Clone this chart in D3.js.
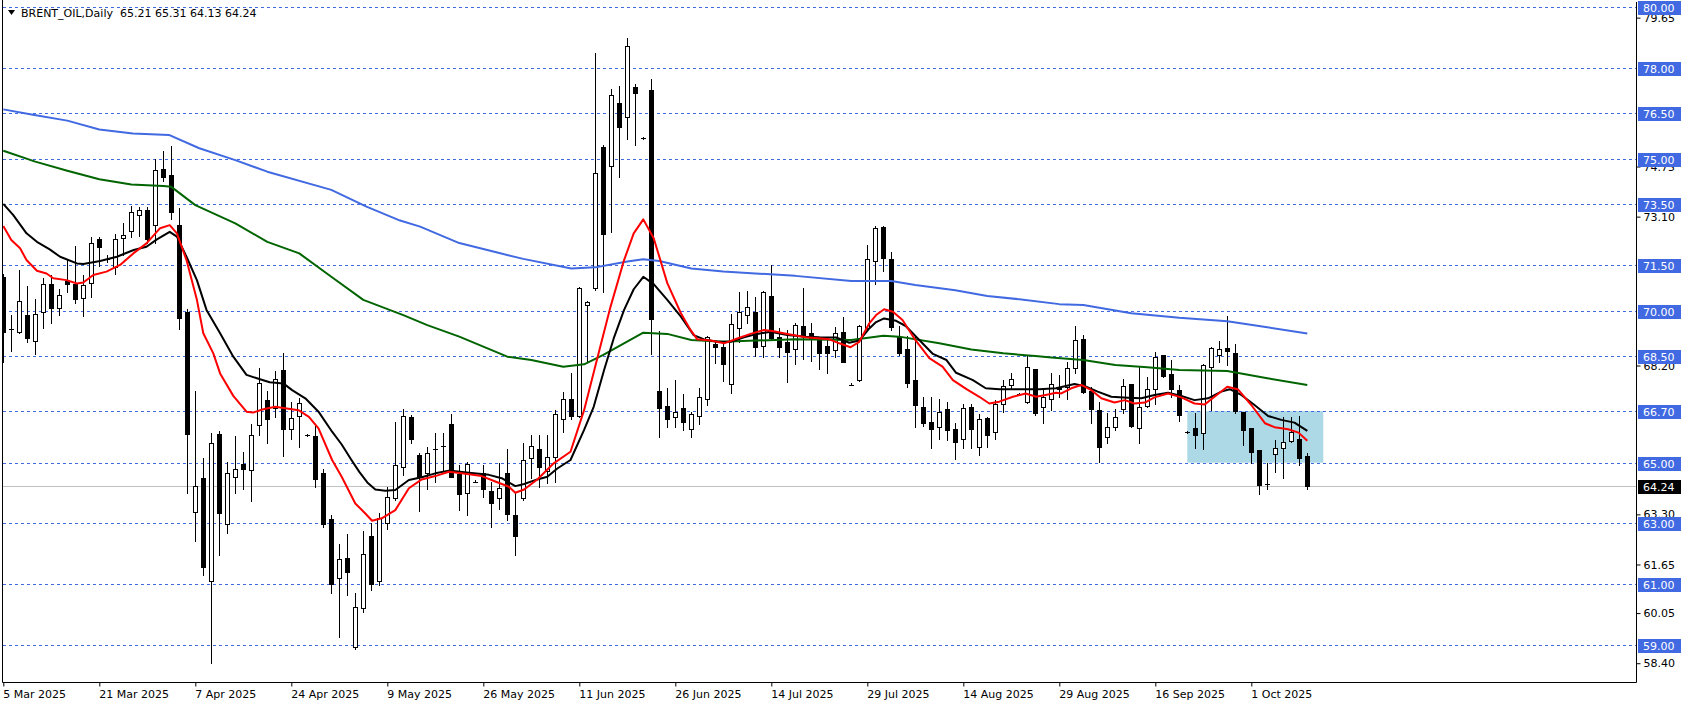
<!DOCTYPE html>
<html><head><meta charset="utf-8">
<script src="https://cdn.jsdelivr.net/npm/d3@7"></script>
<style>
html,body{margin:0;padding:0;background:#fff;}
svg{display:block;}
text{font-family:"DejaVu Sans",sans-serif;font-size:11px;}
</style></head><body>
<svg id="chart" width="1686" height="706"></svg>
<script>
const symbol = "BRENT_OIL,Daily";
const opens = [71.12,69.36,69.29,69.86,68.99,69.95,70.88,70.08,70.98,70.88,
70.41,70.90,72.35,71.70,71.45,72.39,72.63,73.14,73.31,72.84,
74.66,74.46,72.81,69.96,63.39,64.50,61.12,65.93,62.97,64.52,
64.97,64.75,66.23,67.06,66.79,68.05,66.10,66.54,65.90,65.88,
64.65,63.14,61.19,61.86,58.94,60.21,62.59,61.11,63.00,63.83,
64.85,66.52,65.25,64.65,65.42,65.56,66.27,64.62,63.99,64.37,
64.65,64.07,63.83,64.65,63.27,63.83,65.14,65.44,64.73,65.20,
66.43,67.09,66.55,70.18,70.76,75.40,74.77,76.85,76.37,77.36,
75.68,77.27,67.36,66.87,66.49,66.79,66.11,66.54,67.09,68.91,
68.82,67.59,69.42,69.86,69.97,68.84,70.50,69.13,68.98,68.73,
69.49,69.28,69.04,68.84,68.71,69.31,67.57,67.72,69.42,71.63,
72.75,71.69,69.13,68.73,67.72,66.82,66.34,66.16,66.76,66.10,
65.77,66.82,65.53,66.46,66.01,66.93,67.56,67.27,67.01,68.07,
66.82,67.09,67.50,67.48,68.11,69.07,67.37,66.73,65.86,66.19,
66.76,67.58,66.13,66.88,67.44,68.53,67.91,67.39,66.01,66.15,
65.99,68.16,68.55,68.76,68.60,66.68,66.13,65.42,64.30,65.28,
65.47,65.73,65.78,65.21];
const highs = [71.20,69.86,71.34,70.82,70.39,71.07,71.18,70.72,71.70,72.12,
71.18,72.42,72.42,71.85,72.53,72.90,73.45,73.41,73.41,74.99,
75.26,75.42,73.37,70.05,67.36,65.14,65.97,66.04,65.01,65.88,
65.35,66.26,68.11,67.35,68.03,68.62,67.00,67.12,65.95,66.21,
64.79,63.28,62.32,62.67,60.70,62.75,63.03,63.33,64.21,66.34,
66.76,66.57,65.31,65.53,65.97,65.97,66.59,64.92,65.03,64.42,
64.92,64.38,64.98,65.44,63.99,65.64,65.91,65.91,65.90,66.73,
67.34,67.94,70.80,70.32,78.50,75.46,77.29,77.40,78.98,77.47,
75.72,77.62,69.33,67.45,67.72,67.25,66.68,67.45,69.17,68.98,
68.98,69.89,70.61,70.65,70.47,70.65,71.51,69.42,69.37,69.61,
70.74,69.59,69.15,69.15,69.48,69.81,67.63,69.53,72.17,72.79,
72.78,71.95,69.50,69.17,69.20,67.17,67.17,67.09,67.01,66.32,
66.93,66.93,66.60,66.52,67.06,67.72,67.94,67.31,68.51,68.07,
67.45,67.94,67.89,68.33,69.50,69.20,67.50,66.99,66.63,66.76,
67.76,67.58,68.14,67.81,68.64,68.53,68.38,67.56,66.03,66.63,
68.25,68.80,69.00,69.83,68.91,66.68,66.13,65.42,64.98,65.75,
66.51,66.51,66.54,65.31];
const lows = [68.30,68.69,69.26,68.98,68.59,69.42,69.61,69.86,70.63,70.25,
69.84,70.47,71.47,71.62,71.21,71.84,72.42,72.46,72.24,72.22,
74.28,73.01,69.40,63.99,62.43,61.30,58.40,61.96,62.70,63.99,
64.14,63.75,65.90,65.64,66.49,65.23,65.77,65.51,65.88,64.19,
62.87,60.70,59.25,60.64,58.87,60.10,60.81,60.97,62.81,63.77,
64.60,65.64,63.41,64.12,64.38,64.76,64.52,63.44,63.27,64.35,
63.86,62.89,63.47,63.11,61.96,63.77,64.49,64.21,64.32,64.38,
66.02,66.43,66.52,68.33,70.68,70.63,72.60,74.42,75.64,75.46,
75.66,68.58,65.86,66.16,66.16,66.08,65.86,66.29,66.90,68.27,
67.70,67.28,68.98,69.59,68.51,68.49,69.06,68.49,67.67,68.24,
68.40,68.36,68.07,67.94,68.47,68.30,67.55,67.70,69.39,70.88,
71.32,69.37,68.55,67.48,66.19,66.21,65.47,65.77,65.75,65.11,
65.47,65.47,65.25,65.53,65.77,66.68,67.41,67.24,66.98,66.57,
66.32,66.73,67.15,67.09,67.96,67.30,66.30,65.03,65.66,66.08,
66.63,66.16,65.66,66.82,66.93,67.81,67.15,66.38,65.99,65.47,
65.44,66.73,68.30,68.22,66.62,65.58,64.99,63.97,64.14,64.70,
64.49,65.69,64.92,64.13];
const closes = [69.29,69.40,70.31,69.09,69.89,70.87,70.10,70.51,70.89,70.38,
70.84,72.22,72.11,71.72,72.35,72.48,73.24,73.31,72.37,74.62,
74.41,73.26,69.77,65.93,64.22,61.58,65.64,63.35,64.65,64.78,
64.80,65.90,67.61,66.43,67.77,66.10,66.47,66.95,65.89,64.47,
62.97,61.01,61.82,61.39,60.24,61.98,61.01,63.17,63.86,64.91,
66.54,65.77,64.54,65.33,65.46,65.51,64.54,63.96,64.95,64.36,
64.12,63.66,64.16,63.30,62.60,65.08,65.55,64.85,65.18,66.59,
67.09,66.55,70.74,70.30,74.52,72.52,77.10,76.04,78.72,77.18,
75.67,69.74,66.79,66.43,66.66,66.35,66.59,67.15,69.13,68.80,
68.25,69.55,69.97,70.11,68.80,70.61,69.09,68.80,68.65,69.52,
69.17,69.06,68.62,68.60,69.28,68.33,67.56,69.51,71.72,72.71,
71.73,69.48,68.60,67.63,66.89,66.30,66.10,66.66,66.08,65.69,
66.79,66.10,66.43,65.90,66.93,67.54,67.74,67.26,68.14,66.62,
67.17,67.58,67.42,68.11,69.04,67.34,66.78,65.53,66.19,66.49,
67.52,66.21,66.82,67.42,68.47,67.85,67.44,66.57,66.00,65.91,
68.20,68.76,68.75,68.69,66.71,66.08,65.36,64.27,64.26,65.47,
65.68,66.02,65.17,64.24];

const maFast = [[0,72.79],[1,72.33],[2.1,72.06],[2.9,71.67],[4.2,71.32],[5.4,71.23],[6.25,71.07],[7.9,71.01],[9.2,70.90],[10,70.93],[11.25,71.18],[12.9,71.29],[14.6,71.51],[16.25,71.89],[17.9,72.22],[19.6,72.72],[20.8,72.82],[21.7,72.55],[22.9,71.67],[24.2,70.36],[25,69.26],[26.25,68.60],[27.1,67.94],[28.75,67.20],[30.4,66.68],[31.2,66.65],[32.5,66.76],[34,66.84],[36.9,66.73],[38.2,66.51],[39.4,66.13],[41.1,65.09],[42.3,64.54],[44,63.66],[45.25,63.33],[46.1,63.09],[47.3,63.17],[49,63.44],[50.7,64.16],[52.3,64.45],[54,64.56],[55.7,64.70],[57.3,64.65],[59.8,64.56],[61.5,64.38],[63.2,64.21],[64,64.01],[65.1,64.12],[66.75,64.45],[68.8,64.98],[70.9,65.36],[72.6,66.73],[74.3,68.49],[75.9,70.13],[77.6,71.67],[78.8,72.55],[80,73.01],[81.3,72.39],[83,70.91],[84.7,69.92],[85.9,69.37],[86.75,69.06],[88.4,69.02],[90.1,68.93],[91.75,69.09],[93.4,69.24],[95.1,69.37],[96.3,69.33],[98,69.24],[100.3,69.13],[103.25,69.06],[104.5,68.93],[105.9,68.80],[107,68.98],[108.25,69.59],[109.1,69.86],[110.1,70.05],[111.2,69.97],[112.4,69.70],[114,69.04],[115.75,68.44],[117.4,68.16],[118.7,67.72],[120.4,67.42],[122,67.17],[123.25,66.95],[124.5,67.01],[126.2,67.17],[127.8,67.28],[129.1,67.17],[130.3,67.23],[131.6,67.30],[132.25,67.28],[133.5,67.45],[134.75,67.56],[136,67.39],[137.25,67.12],[138.9,66.98],[140.2,67.06],[141.4,66.95],[142.7,66.98],[143.9,67.15],[145.6,67.28],[147.25,67.15],[148.9,66.95],[150.2,66.92],[151.4,67.17],[153,67.50],[154.3,67.42],[156,66.90],[157.7,66.30],[158.9,66.17],[160.6,66.10],[161.9,65.99],[163,65.72]];
const maMid = [[0,73.52],[1.25,73.15],[2.9,72.55],[4.2,72.27],[5.8,72.02],[7.1,71.78],[9.2,71.56],[10,71.54],[12.1,71.64],[14.2,71.78],[16.3,72.00],[17.9,72.11],[19.2,72.35],[20.8,72.60],[21.7,72.44],[22.9,71.78],[24.2,71.01],[25.4,70.03],[27.1,69.26],[28.75,68.49],[30.4,67.89],[31.7,67.78],[33.3,67.65],[35,67.61],[36.1,67.39],[37.75,67.12],[39.4,66.68],[41.1,66.02],[42.3,65.60],[43.5,65.10],[44.5,64.70],[45.5,64.35],[46.5,64.12],[47.75,64.08],[49,64.10],[50.7,64.43],[52.3,64.52],[54,64.65],[55.7,64.74],[58.2,64.67],[60.7,64.60],[62.3,64.49],[64,64.23],[65.1,64.30],[66.75,64.45],[68,64.54],[69.25,64.81],[70.9,65.09],[72.6,66.08],[73.8,66.84],[75.1,68.05],[76.3,69.09],[77.6,70.03],[78.8,70.71],[80,71.12],[81.3,70.88],[83,70.36],[84.7,69.81],[86.3,69.20],[87.6,69.06],[89.25,68.98],[90.9,68.98],[92.6,69.13],[94.25,69.24],[95.9,69.31],[98,69.20],[100.3,69.15],[102,69.13],[104.1,69.12],[105.75,68.95],[107,69.02],[108.25,69.42],[109.1,69.63],[110.1,69.75],[111.6,69.67],[112.8,69.50],[114.5,69.04],[116.2,68.58],[117.9,68.38],[119.1,67.96],[121.2,67.72],[122.8,67.45],[124.5,67.42],[127,67.42],[129.5,67.42],[131.6,67.45],[133.9,67.59],[135.2,67.52],[136.8,67.34],[138.5,67.17],[140.6,67.14],[142.25,67.12],[143.9,67.23],[145.6,67.30],[147.25,67.20],[148.9,67.06],[150.6,67.12],[152.25,67.34],[153.3,67.42],[154.75,67.23],[156.4,66.90],[158.1,66.54],[159.75,66.41],[161.4,66.32],[163,66.05]];
const maSlow = [[0,75.27],[4,74.91],[8,74.61],[12,74.33],[16,74.16],[20,74.11],[21,74.08],[24,73.48],[29,72.88],[33,72.27],[37,71.89],[41,71.12],[45,70.36],[50,69.86],[53,69.53],[57,69.15],[63,68.49],[66,68.38],[70,68.16],[72.6,68.24],[75,68.55],[80,69.28],[83,69.24],[86,69.04],[90,68.98],[94,69.02],[99,69.06],[106,69.04],[110,69.18],[112,69.15],[117,68.93],[121,68.73],[125,68.60],[129,68.51],[131,68.46],[135,68.38],[139,68.22],[143,68.14],[147,68.05],[153,68.02],[158,67.78],[163,67.56]];
const maLong = [[0,76.63],[3.7,76.45],[8,76.26],[12,75.97],[16.2,75.84],[20.7,75.79],[24.5,75.35],[29,74.96],[33,74.58],[41,73.98],[45.4,73.43],[49.6,72.97],[52.1,72.77],[57,72.23],[62,71.90],[65,71.71],[71,71.39],[74,71.43],[78,71.62],[80,71.70],[82,71.64],[86,71.39],[90,71.29],[94,71.23],[99,71.15],[106,70.98],[111,70.98],[114,70.85],[119,70.68],[123,70.49],[127,70.38],[132,70.22],[135,70.19],[141,69.92],[147,69.77],[153,69.66],[158,69.46],[163,69.25]];

const levelLines = [80.00,78.00,76.50,75.00,73.50,71.50,70.00,68.50,66.70,65.00,63.00,61.00,59.00];
const yTicks = [58.40,60.05,61.65,63.30,68.20,73.10,74.75,79.65];
const xTickBars = [0,12,24,36,48,60,72,84,96,108,120,132,144,156];
const xTickLabels = ["5 Mar 2025","21 Mar 2025","7 Apr 2025","24 Apr 2025","9 May 2025","26 May 2025","11 Jun 2025","26 Jun 2025","14 Jul 2025","29 Jul 2025","14 Aug 2025","29 Aug 2025","16 Sep 2025","1 Oct 2025"];
const zoneBars = [148,165];
const zonePrices = [65.00,66.70];

const n = closes.length;
const last = n - 1;
const lastPrice = closes[last];

const svg = d3.select("#chart");
const W = 1686, H = 706;
const plotL = 2.5, plotR = 1636.5, plotB = 682.5;

const x = d3.scaleLinear().domain([0, 163]).range([3.3, 1307.3]);
const y = d3.scaleLinear().domain([59, 80]).range([645, 7]);

svg.append("rect").attr("width", W).attr("height", H).attr("fill", "#fff");

svg.append("defs").append("clipPath").attr("id","plotclip")
  .append("rect").attr("x", 3).attr("y", 0).attr("width", 1633).attr("height", 682);

const plot = svg.append("g").attr("clip-path","url(#plotclip)");

// zone rectangle
plot.append("rect")
  .attr("x", x(zoneBars[0])).attr("width", x(zoneBars[1]) - x(zoneBars[0]))
  .attr("y", y(zonePrices[1])).attr("height", y(zonePrices[0]) - y(zonePrices[1]))
  .attr("fill", "#add8e6");

// last price line
plot.append("line")
  .attr("x1", plotL).attr("x2", plotR)
  .attr("y1", Math.round(y(lastPrice)) + 0.5).attr("y2", Math.round(y(lastPrice)) + 0.5)
  .attr("stroke", "#c0c0c0").attr("stroke-width", 1);

// level lines
plot.selectAll("line.level").data(levelLines).join("line")
  .attr("class","level")
  .attr("x1", plotL).attr("x2", plotR)
  .attr("y1", d => Math.round(y(d)) + 0.5).attr("y2", d => Math.round(y(d)) + 0.5)
  .attr("stroke", "#4169e1").attr("stroke-width", 1)
  .attr("stroke-dasharray", "3,3").attr("shape-rendering","crispEdges");

// candles
const idx = d3.range(n);
const cx = i => Math.round(x(i));
const candles = plot.append("g").attr("shape-rendering","crispEdges");
candles.selectAll("line.wick").data(idx).join("line")
  .attr("class","wick")
  .attr("x1", i => cx(i) + 0.5).attr("x2", i => cx(i) + 0.5)
  .attr("y1", i => Math.round(y(highs[i]))).attr("y2", i => Math.round(y(lows[i])) + 1)
  .attr("stroke", "#000").attr("stroke-width", 1);

idx.forEach(i => {
  const o = opens[i], c = closes[i];
  const yt = Math.round(y(Math.max(o, c)));
  const yb = Math.round(y(Math.min(o, c)));
  const h = yb - yt;
  if (h < 2) {
    candles.append("rect").attr("x", cx(i) - 2).attr("width", 5)
      .attr("y", yt).attr("height", Math.max(1, h)).attr("fill", "#000");
  } else if (c < o) {
    candles.append("rect").attr("x", cx(i) - 2).attr("width", 5)
      .attr("y", yt).attr("height", h + 1).attr("fill", "#000");
  } else {
    candles.append("rect").attr("x", cx(i) - 1.5).attr("width", 4)
      .attr("y", yt + 0.5).attr("height", h).attr("fill", "#fff")
      .attr("stroke", "#000").attr("stroke-width", 1);
  }
});

// moving averages
const line = d3.line().x(d => x(d[0])).y(d => y(d[1]));
const mas = [
  {data: maLong, color: "#4169e1"},
  {data: maSlow, color: "#006400"},
  {data: maMid, color: "#000000"},
  {data: maFast, color: "#ff0000"}
];
plot.selectAll("path.ma").data(mas).join("path")
  .attr("class","ma")
  .attr("d", d => line(d.data))
  .attr("fill","none").attr("stroke", d => d.color)
  .attr("stroke-width", 2).attr("stroke-linejoin","round");

// frame
svg.append("line").attr("x1", plotL).attr("x2", plotL).attr("y1", 0).attr("y2", plotB)
  .attr("stroke","#000").attr("stroke-width",1);
svg.append("line").attr("x1", plotR).attr("x2", plotR).attr("y1", 2).attr("y2", plotB)
  .attr("stroke","#000").attr("stroke-width",1);
svg.append("line").attr("x1", plotL).attr("x2", plotR).attr("y1", plotB).attr("y2", plotB)
  .attr("stroke","#000").attr("stroke-width",1);

// right axis
const yAxis = d3.axisRight(y).tickValues(yTicks).tickSize(4).tickPadding(3)
  .tickFormat(d3.format(".2f"));
const ya = svg.append("g").attr("transform", `translate(${plotR},0)`).call(yAxis);
ya.select(".domain").remove();
ya.selectAll("line").attr("stroke","#000");
ya.selectAll("text").attr("fill","#000").style("font-family","DejaVu Sans").style("font-size","11px");
ya.attr("font-family", null).attr("font-size", null);

// bottom axis
const xAxis = d3.axisBottom(x).tickValues(xTickBars).tickSize(4).tickPadding(4)
  .tickFormat((d, i) => xTickLabels[i]);
const xa = svg.append("g").attr("transform", `translate(0,${plotB})`).call(xAxis);
xa.select(".domain").remove();
xa.selectAll("line").attr("stroke","#000");
xa.selectAll("text").attr("text-anchor","start").attr("dx", "-0.5").attr("fill","#000")
  .style("font-family","DejaVu Sans").style("font-size","11px");
xa.attr("font-family", null).attr("font-size", null);

// level labels
const lab = svg.append("g");
levelLines.forEach(v => {
  const yy = Math.round(y(v));
  lab.append("rect").attr("x", 1638).attr("y", yy - 6).attr("width", 43).attr("height", 14)
    .attr("fill", "#4169e1");
  lab.append("text").attr("x", 1643).attr("y", yy + 5).attr("fill", "#fff").text(v.toFixed(2));
});
{
  const yy = Math.round(y(lastPrice));
  lab.append("rect").attr("x", 1638).attr("y", yy - 6).attr("width", 43).attr("height", 14)
    .attr("fill", "#000");
  lab.append("text").attr("x", 1643).attr("y", yy + 5).attr("fill", "#fff").text(lastPrice.toFixed(2));
}

// title
svg.append("path").attr("d", "M8,10 L15,10 L11.5,15 Z").attr("fill", "#000");
svg.append("text").attr("x", 21).attr("y", 17).attr("fill","#000").style("white-space","pre")
  .text(`${symbol}  ${opens[last].toFixed(2)} ${highs[last].toFixed(2)} ${lows[last].toFixed(2)} ${closes[last].toFixed(2)}`);
</script>
</body></html>
